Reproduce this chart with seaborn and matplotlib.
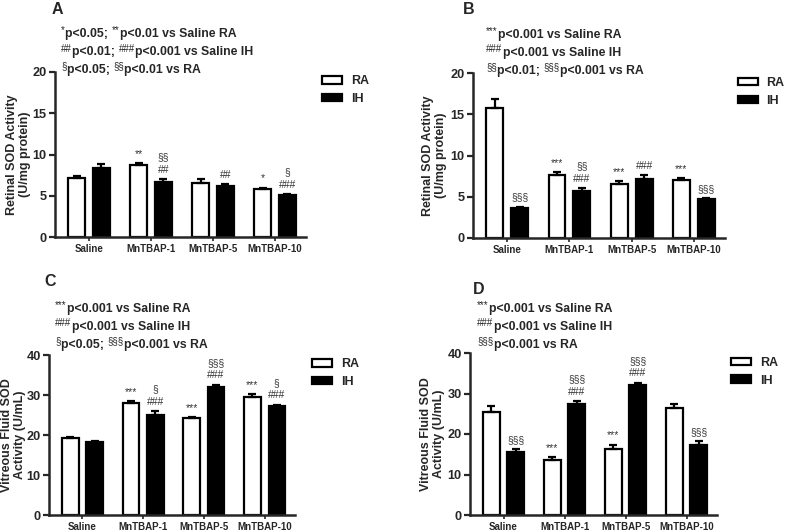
import re

import matplotlib
matplotlib.use("Agg")
import matplotlib.pyplot as plt
import numpy as np
import pandas as pd
import seaborn as sns

# ---- data ----
groups = ["Saline", "MnTBAP-1", "MnTBAP-5", "MnTBAP-10"]
conditions = ["RA", "IH"]

# A: retinal SOD activity, 14 days
a_ra = [7.2, 8.7, 6.5, 5.8]
a_ra_sem = [0.2, 0.3, 0.5, 0.2]
a_ih = [8.4, 6.7, 6.2, 5.1]
a_ih_sem = [0.4, 0.35, 0.25, 0.1]

# B: retinal SOD activity, 28 days
b_ra = [15.7, 7.6, 6.6, 7.0]
b_ra_sem = [1.2, 0.35, 0.3, 0.3]
b_ih = [3.6, 5.7, 7.2, 4.7]
b_ih_sem = [0.2, 0.35, 0.4, 0.1]

# C: vitreous fluid SOD activity, 14 days
c_ra = [19.3, 27.9, 24.2, 29.4]
c_ra_sem = [0.3, 0.5, 0.3, 0.8]
c_ih = [18.3, 25.0, 32.1, 27.2]
c_ih_sem = [0.3, 1.0, 0.5, 0.4]

# D: vitreous fluid SOD activity, 28 days
d_ra = [25.4, 13.5, 16.4, 26.3]
d_ra_sem = [1.4, 0.8, 1.0, 1.1]
d_ih = [15.5, 27.3, 32.2, 17.4]
d_ih_sem = [0.8, 0.8, 0.5, 0.9]

# significance marks above each bar (RA list, IH list)
a_marks_ra = ["", "**", "", "*"]
a_marks_ih = ["", "§§\n##", "##", "§\n###"]
b_marks_ra = ["", "***", "***", "***"]
b_marks_ih = ["§§§", "§§\n###", "###", "§§§"]
c_marks_ra = ["", "***", "***", "***"]
c_marks_ih = ["", "§\n###", "§§§\n###", "§\n###"]
d_marks_ra = ["", "***", "***", ""]
d_marks_ih = ["§§§", "§§§\n###", "§§§\n###", "§§§"]

# header notes; ^{...} marks a superscript
a_notes = ["^{*}p<0.05; ^{**}p<0.01 vs Saline RA",
           "^{##}p<0.01; ^{###}p<0.001 vs Saline IH",
           "^{§}p<0.05; ^{§§}p<0.01 vs RA"]
b_notes = ["^{***}p<0.001 vs Saline RA",
           "^{###}p<0.001 vs Saline IH",
           "^{§§}p<0.01; ^{§§§}p<0.001 vs RA"]
c_notes = ["^{***}p<0.001 vs Saline RA",
           "^{###}p<0.001 vs Saline IH",
           "^{§}p<0.05; ^{§§§}p<0.001 vs RA"]
d_notes = ["^{***}p<0.001 vs Saline RA",
           "^{###}p<0.001 vs Saline IH",
           "^{§§§}p<0.001 vs RA"]

retina_label = "Retinal SOD Activity\n(U/mg protein)"
vitreous_label = "Vitreous Fluid SOD\nActivity (U/mL)"

W, H = 786, 531

sns.set_theme(style="ticks")
plt.rcParams["font.family"] = ["Liberation Sans", "DejaVu Sans"]
plt.rcParams["font.weight"] = "bold"

fig = plt.figure(figsize=(W / 100, H / 100), dpi=100)
renderer = fig.canvas.get_renderer()


def px_axes(left, right, top, bottom):
    return fig.add_axes([left / W, 1 - bottom / H, (right - left) / W, (bottom - top) / H])


def note_line(x, y, line):
    # draw text with small raised markers, piece by piece
    parts = re.split(r"\^\{([^}]*)\}", line)
    for i, part in enumerate(parts):
        if not part:
            continue
        if i % 2 == 1:
            t = fig.text(x / W, 1 - (y - 3.5) / H, part, fontsize=7,
                         fontweight="normal", ha="left", va="center")
        else:
            t = fig.text(x / W, 1 - y / H, part, fontsize=8.8,
                         fontweight="bold", ha="left", va="center")
        x += t.get_window_extent(renderer).width + (0.5 if i % 2 == 1 else 0)


def panel(ax, ra, ra_sem, ih, ih_sem, marks_ra, marks_ih, ymax, step, ylabel,
          ylab_x, letter, letter_xy, notes, notes_xy, leg_xy):
    df = pd.DataFrame({
        "group": groups * 2,
        "cond": ["RA"] * 4 + ["IH"] * 4,
        "value": ra + ih,
    })
    sns.barplot(data=df, x="group", y="value", hue="cond", hue_order=conditions,
                palette={"RA": "white", "IH": "black"}, edgecolor="black",
                linewidth=1.6, width=0.8, gap=0.32, errorbar=None,
                legend=False, ax=ax)

    for cont, sem, marks in zip(ax.containers, [ra_sem, ih_sem], [marks_ra, marks_ih]):
        xs = [b.get_x() + b.get_width() / 2 for b in cont]
        hs = [b.get_height() for b in cont]
        ax.errorbar(xs, hs, yerr=[np.zeros(len(sem)), sem], fmt="none",
                    ecolor="black", elinewidth=1.6, capsize=3.2, capthick=1.6,
                    zorder=3)
        for x, h, s, m in zip(xs, hs, sem, marks):
            if m:
                ax.annotate(m, (x, h + s), xytext=(0, 3), textcoords="offset points",
                            ha="center", va="bottom", fontsize=7.5,
                            fontweight="normal", color="#333333", linespacing=1.3)

    ax.set_xlim(-0.55, 3.5)
    ax.set_ylim(0, ymax)
    ax.set_yticks(np.arange(0, ymax + 1, step))
    ax.set_xlabel("")
    ax.set_ylabel(ylabel, fontsize=9, fontweight="bold", linespacing=1.1)
    ax.yaxis.set_label_coords(ylab_x, 0.5)
    ax.tick_params(axis="y", labelsize=9.2, width=1.6, length=4, pad=2)
    ax.tick_params(axis="x", labelsize=7, width=1.2, length=3, pad=2)
    for lab in ax.get_xticklabels() + ax.get_yticklabels():
        lab.set_fontweight("bold")
    sns.despine(ax=ax)
    for sp in ("left", "bottom"):
        ax.spines[sp].set_linewidth(1.8)

    handles = [ax.containers[0][0], ax.containers[1][0]]
    ax.legend(handles, conditions, loc="upper left", bbox_to_anchor=leg_xy,
              frameon=False, fontsize=9, handlelength=1.6, handleheight=0.55,
              handletextpad=0.7, labelspacing=0.45, borderaxespad=0,
              borderpad=0)

    fig.text(letter_xy[0] / W, 1 - letter_xy[1] / H, letter, fontsize=11.5,
             fontweight="bold", ha="left", va="center")
    for i, note in enumerate(notes):
        note_line(notes_xy[0], notes_xy[1] + i * 18, note)


ax_a = px_axes(55, 306, 72, 237)
panel(ax_a, a_ra, a_ra_sem, a_ih, a_ih_sem, a_marks_ra, a_marks_ih, 20, 5,
      retina_label, -0.095, "A", (52, 9), a_notes, (61, 34), (1.064, 0.98))

ax_b = px_axes(473, 725, 73, 238)
panel(ax_b, b_ra, b_ra_sem, b_ih, b_ih_sem, b_marks_ra, b_marks_ih, 20, 5,
      retina_label, -0.103, "B", (463, 9), b_notes, (486, 35), (1.05, 0.975))

ax_c = px_axes(49, 295, 355, 515)
panel(ax_c, c_ra, c_ra_sem, c_ih, c_ih_sem, c_marks_ra, c_marks_ih, 40, 10,
      vitreous_label, -0.092, "C", (44, 281), c_notes, (55, 309), (1.069, 0.98))

ax_d = px_axes(470, 717, 353, 515)
panel(ax_d, d_ra, d_ra_sem, d_ih, d_ih_sem, d_marks_ra, d_marks_ih, 40, 10,
      vitreous_label, -0.1, "D", (473, 289), d_notes, (477, 309), (1.057, 0.975))

fig.savefig("out.png", dpi=100, facecolor="white")
